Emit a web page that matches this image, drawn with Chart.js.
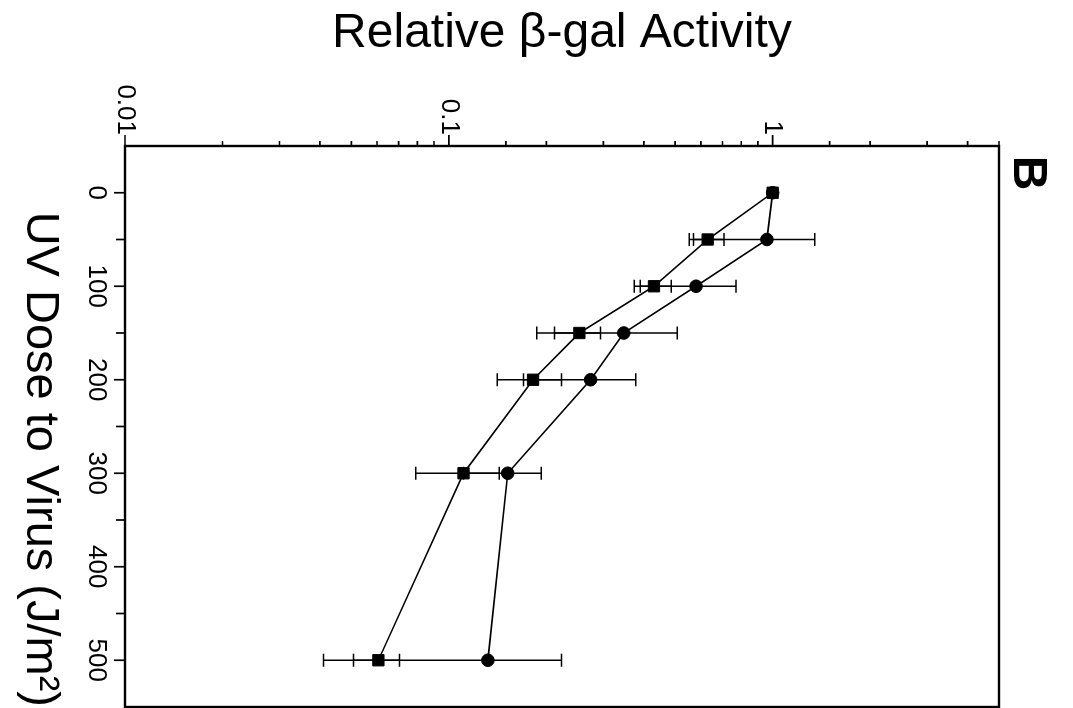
<!DOCTYPE html>
<html>
<head>
<meta charset="utf-8">
<title>UV dose vs relative beta-gal activity</title>
<script src="https://cdn.jsdelivr.net/npm/chart.js"></script>
<style>
  html, body { margin: 0; padding: 0; background: #fff; overflow: hidden; }
  /* the panel is laid out upright, then turned a quarter clockwise */
  #wrap {
    position: absolute;
    left: 0;
    top: 0;
    width: 708px;
    height: 1073px;
    transform-origin: 0 0;
    transform: translate(1073px, 0) rotate(90deg);
  }
</style>
</head>
<body>
<div id="wrap"><canvas id="uvChart" width="708" height="1073"></canvas></div>
<script>
// UV dose given to the virus (J/m2)
const doses = [0, 50, 100, 150, 200, 300, 500];

// squares
const squareVals = [1.0, 0.63, 0.43, 0.253, 0.182, 0.111, 0.0606];
const squareErr = [0, 0.077, 0.056, 0.041, 0.041, 0.032, 0.0098];

// circles
const circleVals = [1.0, 0.96, 0.58, 0.347, 0.274, 0.152, 0.132];
const circleErr = [0, 0.39, 0.19, 0.16, 0.104, 0.041, 0.091];

// axis labels
const doseLabels = [0, 100, 200, 300, 400, 500];
const activityLabels = ["0.01", "0.1", "1"];

const FONT = "'Liberation Sans', Arial, Helvetica, sans-serif";
Chart.defaults.font.family = FONT;
Chart.defaults.color = "#000";

function isDecade(v) {
  const l = Math.log10(v);
  return Math.abs(l - Math.round(l)) < 1e-6;
}

// horizontal bars around each point (vertical in the upright layout)
const errorBars = {
  id: "errorBars",
  beforeDatasetsDraw(chart) {
    const { ctx, scales } = chart;
    ctx.save();
    ctx.strokeStyle = "#000";
    ctx.lineWidth = 1.5;
    chart.data.datasets.forEach((ds) => {
      ds.data.forEach((pt, i) => {
        const err = ds.errors[i];
        if (!err) return;
        const px = scales.x.getPixelForValue(pt.x);
        const lo = scales.y.getPixelForValue(pt.y - err);
        const hi = scales.y.getPixelForValue(pt.y + err);
        ctx.beginPath();
        ctx.moveTo(px, lo);
        ctx.lineTo(px, hi);
        ctx.moveTo(px - 6.5, lo);
        ctx.lineTo(px + 6.5, lo);
        ctx.moveTo(px - 6.5, hi);
        ctx.lineTo(px + 6.5, hi);
        ctx.stroke();
      });
    });
    ctx.restore();
  },
};

// outward tick marks, frame and panel letter
const frameAndTicks = {
  id: "frameAndTicks",
  afterDraw(chart) {
    const { ctx, chartArea, scales } = chart;
    ctx.save();
    ctx.strokeStyle = "#000";
    ctx.fillStyle = "#000";
    ctx.lineWidth = 1.7;
    ctx.beginPath();
    scales.y.ticks.forEach((t) => {
      const py = scales.y.getPixelForValue(t.value);
      const len = isDecade(t.value) ? 11 : 5;
      ctx.moveTo(chartArea.left, py);
      ctx.lineTo(chartArea.left - len, py);
    });
    scales.x.ticks.forEach((t) => {
      if (t.value <= scales.x.min || t.value >= scales.x.max) return;
      const px = scales.x.getPixelForValue(t.value);
      const len = t.value % 100 === 0 ? 11 : 9;
      ctx.moveTo(px, chartArea.bottom);
      ctx.lineTo(px, chartArea.bottom + len);
    });
    ctx.stroke();

    ctx.lineWidth = 2.4;
    ctx.strokeRect(chartArea.left, chartArea.top,
      chartArea.right - chartArea.left, chartArea.bottom - chartArea.top);

    ctx.font = "bold 48px " + FONT;
    ctx.textAlign = "center";
    ctx.textBaseline = "middle";
    ctx.fillText("B", chartArea.left + 27, chartArea.top - 28);
    ctx.restore();
  },
};

const squareSeries = {
  label: "squares",
  data: doses.map((d, i) => ({ x: d, y: squareVals[i] })),
  errors: squareErr,
  showLine: true,
  borderColor: "#000",
  borderWidth: 1.6,
  backgroundColor: "#000",
  pointStyle: "rect",
  pointRadius: 8,
  pointBorderWidth: 1,
  pointBorderColor: "#000",
  pointBackgroundColor: "#000",
};

const circleSeries = {
  label: "circles",
  data: doses.map((d, i) => ({ x: d, y: circleVals[i] })),
  errors: circleErr,
  showLine: true,
  borderColor: "#000",
  borderWidth: 1.6,
  backgroundColor: "#000",
  pointStyle: "circle",
  pointRadius: 6.3,
  pointBorderWidth: 1,
  pointBorderColor: "#000",
  pointBackgroundColor: "#000",
};

new Chart(document.getElementById("uvChart"), {
  type: "scatter",
  data: { datasets: [circleSeries, squareSeries] },
  options: {
    responsive: false,
    animation: false,
    events: [],
    layout: {
      autoPadding: false,
      padding: { top: 74, right: 1, left: 0, bottom: 0 },
    },
    plugins: {
      legend: { display: false },
      tooltip: { enabled: false },
    },
    scales: {
      x: {
        type: "linear",
        position: "bottom",
        min: -50,
        max: 550,
        afterFit(scale) {
          scale.height = 125;
          scale.paddingLeft = 0;
          scale.paddingRight = 0;
        },
        grid: { display: false, drawTicks: false },
        border: { display: false },
        ticks: {
          stepSize: 50,
          autoSkip: false,
          maxRotation: 0,
          minRotation: 0,
          padding: 13,
          font: { size: 26 },
          callback: (v) => (doseLabels.includes(v) ? String(v) : ""),
        },
        title: {
          display: true,
          align: "end",
          text: "UV Dose to Virus (J/m²)",
          font: { size: 47 },
          padding: { top: 0, bottom: 12 },
        },
      },
      y: {
        type: "logarithmic",
        position: "left",
        min: 0.01,
        max: 5,
        afterFit(scale) {
          scale.width = 146;
          scale.paddingTop = 0;
          scale.paddingBottom = 0;
        },
        grid: { display: false, drawTicks: false },
        border: { display: false },
        ticks: {
          autoSkip: false,
          padding: 11,
          font: { size: 26 },
          callback: (v) => {
            if (!isDecade(v)) return "";
            const s = String(+v.toPrecision(3));
            return activityLabels.includes(s) ? s : "";
          },
        },
        title: {
          display: true,
          text: "Relative β-gal Activity",
          font: { size: 48 },
          padding: { top: 5, bottom: 0 },
        },
      },
    },
  },
  plugins: [errorBars, frameAndTicks],
});
</script>
</body>
</html>
